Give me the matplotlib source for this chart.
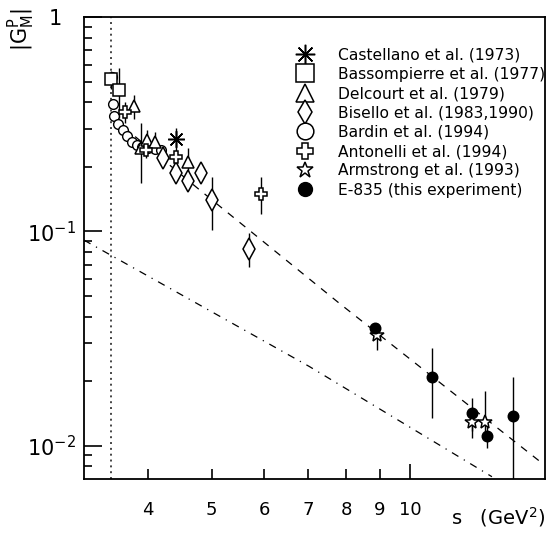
import matplotlib
matplotlib.use("Agg")
import matplotlib.pyplot as plt
from matplotlib.lines import Line2D

plt.rcParams['font.family'] = ['DejaVu Sans']
plt.rcParams['mathtext.default'] = 'regular'

# s in GeV^2, |G_M| values, errors
castellano_s = [4.41]
castellano_g = [0.269]
castellano_e = [0.036]

bassomp_s = [3.52, 3.62]
bassomp_g = [0.513, 0.458]
bassomp_e = [0.05, 0.12]

delcourt_s = [3.81, 3.905, 3.99, 4.10, 4.60]
delcourt_g = [0.384, 0.245, 0.266, 0.262, 0.210]
delcourt_e = [0.05, 0.077, 0.03, 0.03, 0.036]

bisello_s = [4.21, 4.41, 4.60, 4.81, 5.01, 5.69]
bisello_g = [0.219, 0.187, 0.171, 0.187, 0.140, 0.083]
bisello_e = [0.01, 0.01, 0.015, 0.01, 0.039, 0.015]

bardin_s = [3.53, 3.542, 3.554, 3.603, 3.667, 3.718, 3.784, 3.851, 3.917, 4.00, 4.10, 4.19]
bardin_g = [0.525, 0.392, 0.344, 0.316, 0.296, 0.278, 0.261, 0.252, 0.247, 0.244, 0.242, 0.239]

antonelli_s = [3.69, 3.98, 4.41, 5.94]
antonelli_g = [0.361, 0.239, 0.222, 0.150]
antonelli_e = [0.04, 0.02, 0.015, 0.029]

armstrong_s = [8.89, 12.40, 12.99]
armstrong_g = [0.0327, 0.0129, 0.0129]
armstrong_lo = [0.0048, 0.002, 0.0015]
armstrong_hi = [0.0048, 0.002, 0.005]

e835_s = [8.85, 10.78, 12.40, 13.09, 14.33]
e835_g = [0.0355, 0.0210, 0.01416, 0.0111, 0.0137]
e835_e = [0.002, 0.0075, 0.0025, 0.0013, 0.0072]

# curves
fit_s = [3.53, 4.80, 7.81, 15.95]
fit_g = [0.34, 0.1555, 0.0461, 0.00815]
low_s = [3.2, 7.03, 13.3]
low_g = [0.091, 0.0234, 0.00716]
threshold = 3.52

labels = ["Castellano et al. (1973)", "Bassompierre et al. (1977)",
          "Delcourt et al. (1979)", "Bisello et al. (1983,1990)",
          "Bardin et al. (1994)", "Antonelli et al. (1994)",
          "Armstrong et al. (1993)", "E-835 (this experiment)"]

fig = plt.figure(figsize=(5.56, 5.51), dpi=100)
ax = fig.add_axes([0.151, 0.131, 0.829, 0.838])
ax.set_xscale('log')
ax.set_yscale('log')
ax.set_xlim(3.2, 16.0)
ax.set_ylim(0.007, 1.0)

ax.axvline(threshold, color='#444444', ls=(0, (1, 2)), lw=1.4)
ax.plot(fit_s, fit_g, color='k', ls=(0, (6, 6)), lw=0.9)
ax.plot(low_s, low_g, color='k', ls=(0, (6, 5, 1, 5)), lw=0.9)

eb = dict(ecolor='k', elinewidth=1.0, capsize=0, ls='none', mec='k', mew=1.1)
ast = (8, 2, 0)
ax.errorbar(castellano_s, castellano_g, yerr=castellano_e, marker=ast, ms=12, mfc='none', **eb)
ax.errorbar(bassomp_s, bassomp_g, yerr=bassomp_e, marker='s', ms=9, mfc='white', **eb)
ax.errorbar(delcourt_s, delcourt_g, yerr=delcourt_e, marker='^', ms=9, mfc='white', **eb)
ax.errorbar(bisello_s, bisello_g, yerr=bisello_e, marker='d', ms=11, mfc='white', **eb)
ax.plot(bardin_s, bardin_g, ls='none', marker='o', ms=7, mfc='white', mec='k', mew=1.0)
ax.errorbar(antonelli_s, antonelli_g, yerr=antonelli_e, marker='P', ms=9, mfc='white', **eb)
ax.errorbar(armstrong_s, armstrong_g, yerr=[armstrong_lo, armstrong_hi], marker='*', ms=10,
            mfc='white', **eb)
ax.errorbar(e835_s, e835_g, yerr=e835_e, marker='o', ms=7.5, mfc='k', **eb)

handles = [
    Line2D([], [], ls='none', marker=ast, ms=14, mec='k', mew=1.1),
    Line2D([], [], ls='none', marker='s', ms=13, mfc='white', mec='k', mew=1.1),
    Line2D([], [], ls='none', marker='^', ms=13, mfc='white', mec='k', mew=1.1),
    Line2D([], [], ls='none', marker='d', ms=12, mfc='white', mec='k', mew=1.1),
    Line2D([], [], ls='none', marker='o', ms=12, mfc='white', mec='k', mew=1.1),
    Line2D([], [], ls='none', marker='P', ms=12, mfc='white', mec='k', mew=1.1),
    Line2D([], [], ls='none', marker='*', ms=12, mfc='white', mec='k', mew=1.1),
    Line2D([], [], ls='none', marker='o', ms=10, mfc='k', mec='k'),
]
ax.legend(handles, labels, loc='upper left', bbox_to_anchor=(0.44, 0.948),
          frameon=False, fontsize=11.2, handlelength=1.5, handletextpad=1.4,
          labelspacing=0.28, borderaxespad=0)

# ticks
ax.set_xticks([10], ['10'])
ax.set_xticks([4, 5, 6, 7, 8, 9], ['4', '5', '6', '7', '8', '9'], minor=True)
ax.set_yticks([1, 0.1, 0.01], ['1  ', '$10^{-1}$', '$10^{-2}$'])
ax.set_yticks([0.9, 0.8, 0.7, 0.6, 0.5, 0.4, 0.3, 0.2,
               0.09, 0.08, 0.07, 0.06, 0.05, 0.04, 0.03, 0.02, 0.009, 0.008], minor=True)
ax.yaxis.set_minor_formatter(plt.NullFormatter())
ax.tick_params(axis='both', which='both', direction='in', top=False, right=False, width=1.2)
ax.tick_params(axis='x', which='major', length=11, labelsize=13, pad=16)
ax.tick_params(axis='x', which='minor', length=7, labelsize=13, pad=16)
ax.tick_params(axis='y', which='major', length=13, labelsize=15, pad=6)
ax.tick_params(axis='y', which='minor', length=6)
for sp in ax.spines.values():
    sp.set_linewidth(1.3)

ax.set_xlabel('s   (GeV$^2$)', loc='right', fontsize=14, labelpad=-10)
ax.text(-0.135, 1.02, '$|G^P_M|$', transform=ax.transAxes, rotation=90,
        ha='center', va='top', fontsize=15)

fig.savefig('out.png', dpi=100, facecolor='white')
